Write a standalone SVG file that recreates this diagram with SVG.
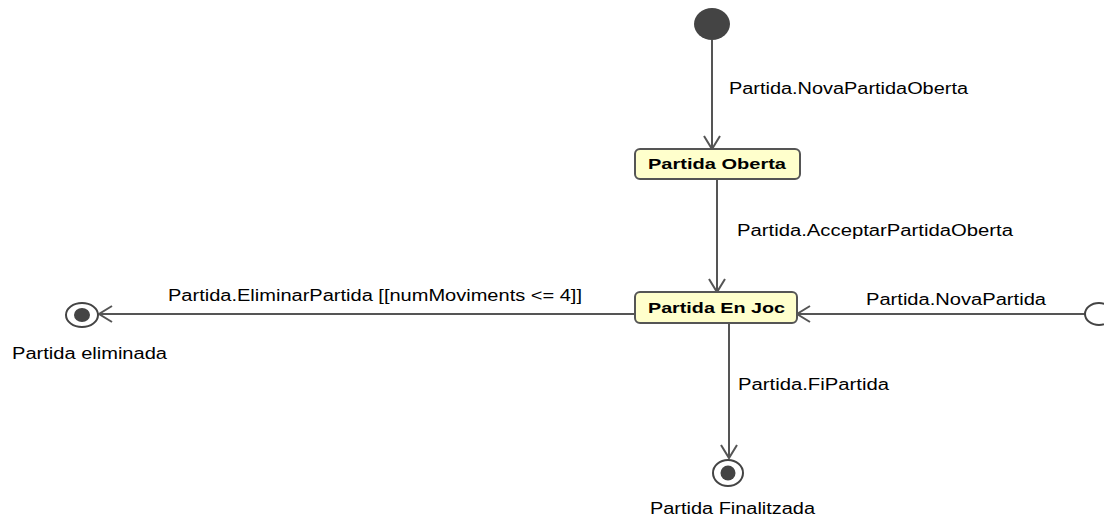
<svg xmlns="http://www.w3.org/2000/svg" width="1104" height="517" viewBox="0 0 1104 517">
<defs>
<style>
.lbl{font-family:"Liberation Sans",Arial,sans-serif;font-size:16px;fill:#000}
.st{font-family:"Liberation Sans",Arial,sans-serif;font-size:15px;font-weight:bold;fill:#000}
.box{fill:#ffffcc;stroke:#555;stroke-width:2}
.edge{fill:none;stroke:#555;stroke-width:2}
.ring{fill:#fff;stroke:#444;stroke-width:2}
.dot{fill:#444}
</style>
<marker id="arr" markerUnits="userSpaceOnUse" markerWidth="16" markerHeight="18" refX="14" refY="9" orient="auto">
<path d="M1,1 L14,9 L1,17" fill="none" stroke="#555" stroke-width="2"/>
</marker>
</defs>
<rect width="1104" height="517" fill="#fff"/>
<g id="connectors">
<line class="edge" x1="712" y1="40" x2="712" y2="149" marker-end="url(#arr)"/>
<line class="edge" x1="717" y1="179" x2="717" y2="292" marker-end="url(#arr)"/>
<line class="edge" x1="635" y1="314" x2="99" y2="314" marker-end="url(#arr)"/>
<line class="edge" x1="1085" y1="314" x2="797" y2="314" marker-end="url(#arr)"/>
<line class="edge" x1="729" y1="323" x2="729" y2="458" marker-end="url(#arr)"/>
<text class="lbl" x="729" y="94" textLength="239" lengthAdjust="spacingAndGlyphs">Partida.NovaPartidaOberta</text>
<text class="lbl" x="737" y="236" textLength="276" lengthAdjust="spacingAndGlyphs">Partida.AcceptarPartidaOberta</text>
<text class="lbl" x="168" y="301" textLength="414" lengthAdjust="spacingAndGlyphs">Partida.EliminarPartida [[numMoviments &lt;= 4]]</text>
<text class="lbl" x="866" y="305" textLength="180" lengthAdjust="spacingAndGlyphs">Partida.NovaPartida</text>
<text class="lbl" x="738" y="390" textLength="151" lengthAdjust="spacingAndGlyphs">Partida.FiPartida</text>
</g>
<g id="initial">
<ellipse class="dot" cx="712" cy="24" rx="18" ry="16"/>
</g>
<g id="partidaOberta">
<rect class="box" x="635" y="149" width="165" height="30" rx="5"/>
<text class="st" x="648" y="169" textLength="138" lengthAdjust="spacingAndGlyphs">Partida Oberta</text>
</g>
<g id="partidaEnJoc">
<rect class="box" x="635" y="292" width="162" height="31" rx="5"/>
<text class="st" x="648" y="313" textLength="137" lengthAdjust="spacingAndGlyphs">Partida En Joc</text>
</g>
<g id="partidaEliminada">
<ellipse class="ring" cx="82" cy="315" rx="16" ry="12"/>
<ellipse class="dot" cx="82" cy="315" rx="8" ry="7"/>
<text class="lbl" x="12" y="359" textLength="155" lengthAdjust="spacingAndGlyphs">Partida eliminada</text>
</g>
<g id="partidaFinalitzada">
<ellipse class="ring" cx="728" cy="473" rx="15" ry="13"/>
<ellipse class="dot" cx="728" cy="473" rx="7.5" ry="7.5"/>
<text class="lbl" x="650" y="514" textLength="165" lengthAdjust="spacingAndGlyphs">Partida Finalitzada</text>
</g>
<g id="novaPartida">
<ellipse class="ring" cx="1099" cy="314" rx="14" ry="11"/>
</g>
</svg>
